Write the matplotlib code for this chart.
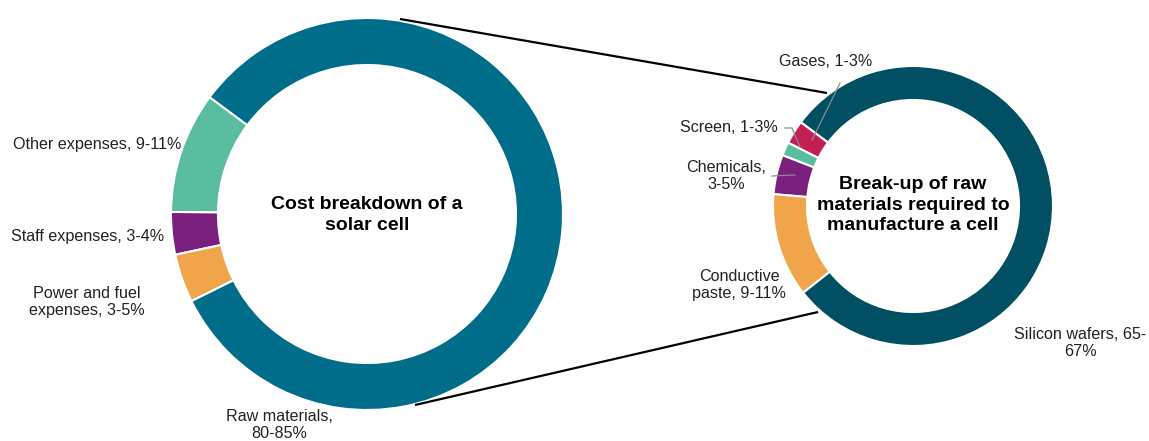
import matplotlib
matplotlib.use("Agg")
import matplotlib.pyplot as plt

plt.rcParams['font.family'] = ['Liberation Sans', 'DejaVu Sans']

# left donut: cost breakdown of a solar cell (midpoints of the ranges)
cost_labels = ['Other expenses, 9-11%', 'Staff expenses, 3-4%',
               'Power and fuel\nexpenses, 3-5%', 'Raw materials,\n80-85%']
cost_values = [10, 3.5, 4, 82.5]
cost_colors = ['#5bbd9f', '#7a1f7e', '#f0a54b', '#006e8a']

# right donut: raw materials break-up
raw_labels = ['Gases, 1-3%', 'Screen, 1-3%', 'Chemicals,\n3-5%',
              'Conductive\npaste, 9-11%', 'Silicon wafers, 65-\n67%']
raw_values = [2.3, 1.3, 3.8, 10, 66]
raw_colors = ['#c41f52', '#5bbd9f', '#7a1f7e', '#f0a54b', '#004f63']

W, H = 1149, 441
fig = plt.figure(figsize=(W / 100, H / 100), dpi=100)
ax = fig.add_axes([0, 0, 1, 1])

# pixel positions from the top, flipped to y-up
def py(y):
    return H - y

ax.pie(cost_values, colors=cost_colors, startangle=143.4, counterclock=True,
       radius=196, center=(367, py(214)), frame=True,
       wedgeprops=dict(width=47, edgecolor='white', linewidth=1.5))
ax.pie(raw_values, colors=raw_colors, startangle=143.2, counterclock=True,
       radius=140, center=(913, py(206)), frame=True,
       wedgeprops=dict(width=34, edgecolor='white', linewidth=1.5))

# zoom lines between the two donuts
ax.plot([400, 827], [py(19), py(93)], color='black', lw=1.6, solid_capstyle='butt')
ax.plot([415, 818], [py(405), py(312)], color='black', lw=1.6, solid_capstyle='butt')

# center titles
ax.text(367, py(215), 'Cost breakdown of a\nsolar cell', ha='center', va='center',
        fontsize=14, fontweight='bold', linespacing=1.3)
ax.text(913, py(205), 'Break-up of raw\nmaterials required to\nmanufacture a cell',
        ha='center', va='center', fontsize=14, fontweight='bold', linespacing=1.3)

lab = dict(fontsize=11.6, color='#222222', va='center', linespacing=1.2)
# left labels
ax.text(181, py(144), cost_labels[0], ha='right', **lab)
ax.text(164, py(237), cost_labels[1], ha='right', **lab)
ax.text(87, py(302), cost_labels[2], ha='center', **lab)
ax.text(279, py(425), cost_labels[3], ha='center', **lab)

# right labels
ax.text(826, py(62), raw_labels[0], ha='center', **lab)
ax.text(778, py(128), raw_labels[1], ha='right', **lab)
ax.text(726, py(176), raw_labels[2], ha='center', **lab)
ax.text(739, py(285), raw_labels[3], ha='center', **lab)
ax.text(1080, py(343), raw_labels[4], ha='center', **lab)

# leader lines
lc = dict(color='#8c8c8c', lw=0.9)
ax.plot([840, 812], [py(83), py(140)], **lc)
ax.plot([785, 792, 800], [py(128), py(128), py(147)], **lc)
ax.plot([772, 795], [py(176), py(175)], **lc)

ax.set_xlim(0, W)
ax.set_ylim(0, H)
ax.set_aspect('equal')
ax.axis('off')

fig.savefig('out.png', dpi=100, facecolor='white')
